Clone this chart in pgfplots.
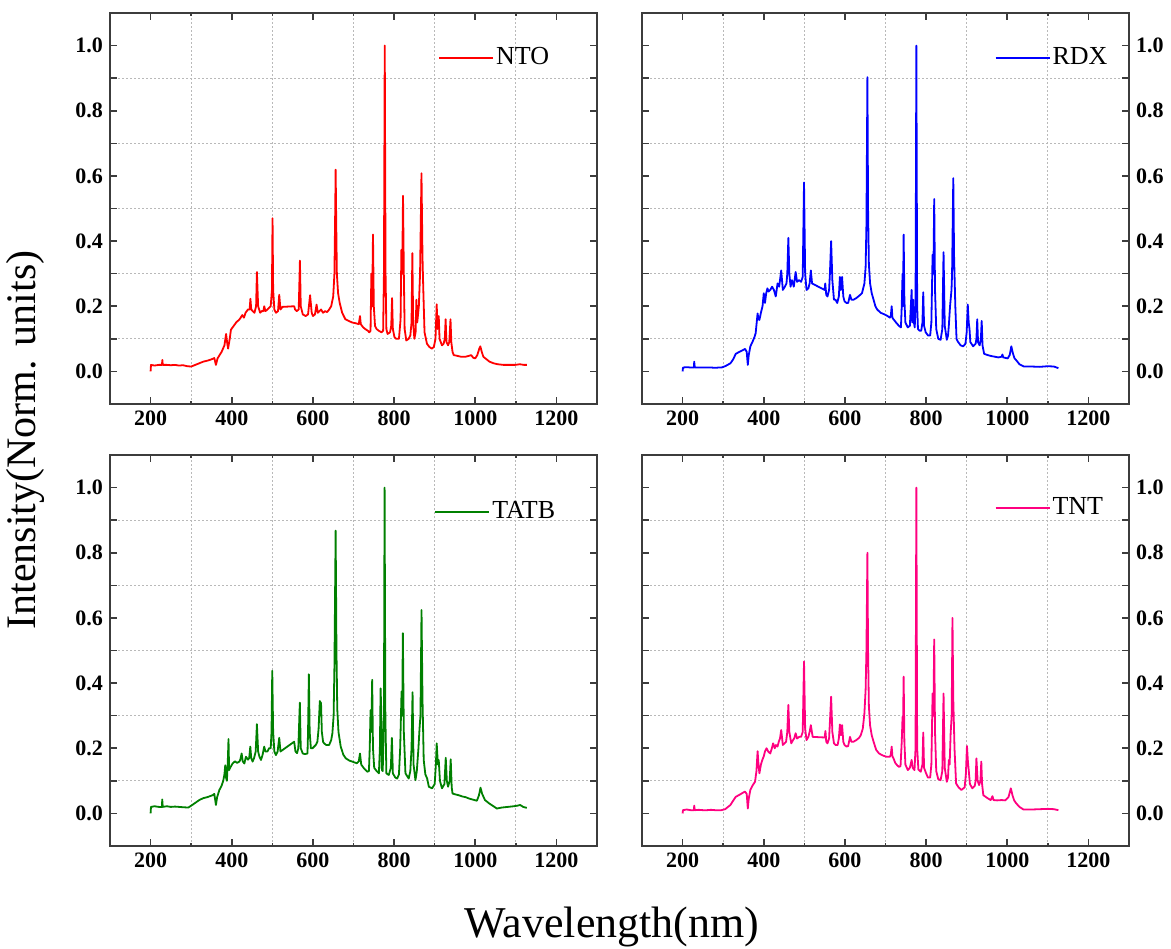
\documentclass[border=0pt]{standalone}
\usepackage{fontspec}
\setmainfont{Liberation Serif}
\usepackage{pgfplots}
\pgfplotsset{compat=1.18}
\definecolor{axgray}{HTML}{3C3C3C}
\definecolor{cNTO}{RGB}{255,0,0}
\definecolor{cRDX}{RGB}{0,0,255}
\definecolor{cTATB}{RGB}{0,128,0}
\definecolor{cTNT}{RGB}{255,0,128}
\pgfplotsset{
 spec/.style={
  scale only axis, height=195.5pt, width=243.5pt,
  xmin=100, xmax=1300, ymin=-0.1, ymax=1.1,
  xtick={200,400,600,800,1000,1200}, xticklabels={200,400,600,800,1000,1200},
  ytick={0,0.1,0.2,0.3,0.4,0.5,0.6,0.7,0.8,0.9,1.0},
  yticklabels={0.0,{},0.2,{},0.4,{},0.6,{},0.8,{},1.0},
  minor xtick={300,500,700,900,1100}, minor ytick={0.1,0.3,0.5,0.7,0.9},
  xminorgrids=true, yminorgrids=true, xmajorgrids=false, ymajorgrids=false,
  minor grid style={gray!55, dash pattern=on 0.8pt off 1.2pt, line width=0.5pt},
  tick align=inside,
  major tick length=3.5pt, minor tick length=1.5pt,
  axis line style={axgray, line width=1pt},
  every tick/.style={axgray, line width=0.8pt},
  ticklabel style={font=\fontsize{11}{11}\selectfont\bfseries},
  legend style={draw=none, fill=none, anchor=west, inner sep=0pt,
    font=\fontsize{13}{13}\selectfont, nodes={inner sep=1pt}},
  legend image code/.code={\draw[#1, line width=1pt] (0pt,0pt) -- (27pt,0pt);},
  every axis plot/.append style={line width=0.9pt, line join=round},
 }
}
\begin{document}
\begin{tikzpicture}
\useasboundingbox (0,0) rectangle (585.5pt,474pt);
% ---------------- NTO ----------------
\begin{axis}[spec, at={(55pt,272pt)}, anchor=south west,
  legend style={at={(0.673,0.886)}}]
\addplot[color=cNTO] coordinates {
(200,0.0)(201,0.02)(210,0.018)(220,0.02)(228,0.02)(229,0.035)(230,0.02)(240,0.02)(250,0.019)(260,0.02)(270,0.018)(280,0.019)(290,0.016)(300,0.015)(310,0.02)(320,0.025)(330,0.03)(340,0.033)(350,0.037)(357,0.041)(361,0.02)(365,0.04)(375,0.06)(382,0.08)(386,0.115)(389,0.085)(391,0.07)(395,0.1)(398,0.128)(405,0.14)(412,0.152)(418,0.158)(422,0.165)(426,0.173)(430,0.165)(434,0.18)(440,0.19)(444,0.19)(446,0.223)(448,0.19)(452,0.185)(456,0.18)(460,0.2)(462,0.305)(465,0.2)(470,0.18)(474,0.185)(478,0.185)(480,0.2)(483,0.185)(488,0.19)(492,0.195)(496,0.2)(499,0.25)(500.5,0.47)(502,0.25)(505,0.19)(509,0.18)(514,0.185)(517,0.235)(520,0.19)(525,0.198)(554,0.2)(556,0.19)(560,0.185)(565,0.19)(568,0.34)(570,0.2)(575,0.175)(582,0.17)(588,0.175)(593,0.234)(597,0.18)(600,0.17)(605,0.175)(609,0.205)(612,0.18)(616,0.185)(620,0.19)(625,0.18)(630,0.185)(635,0.182)(640,0.19)(645,0.2)(650,0.23)(653,0.3)(655,0.5)(656,0.619)(657.5,0.45)(659,0.3)(662,0.24)(666,0.21)(672,0.18)(680,0.16)(688,0.155)(697,0.15)(705,0.148)(713,0.145)(716,0.17)(718,0.145)(724,0.135)(729,0.13)(735,0.125)(739,0.12)(742,0.125)(744,0.3)(746,0.2)(748,0.42)(750,0.2)(753,0.14)(757,0.13)(762,0.125)(769,0.12)(773,0.125)(775,0.3)(777,1.0)(779,0.3)(781,0.13)(784,0.115)(790,0.12)(793,0.14)(795,0.225)(797,0.13)(801,0.105)(805,0.1)(812,0.1)(816,0.16)(818,0.373)(820,0.3)(822,0.539)(824,0.3)(826,0.13)(830,0.095)(836,0.1)(840,0.11)(843,0.15)(845,0.363)(847,0.15)(850,0.1)(853,0.12)(855,0.22)(857,0.15)(861,0.2)(864,0.3)(867.5,0.608)(870,0.35)(872,0.25)(875,0.12)(881,0.085)(887,0.075)(893,0.07)(898,0.075)(902,0.1)(905,0.206)(907,0.13)(910,0.17)(912,0.1)(918,0.08)(922,0.085)(925,0.1)(927,0.16)(929,0.09)(933,0.08)(936,0.09)(939,0.16)(941,0.09)(944,0.06)(947,0.05)(955,0.048)(965,0.045)(976,0.045)(985,0.048)(990,0.05)(995,0.042)(1000,0.04)(1005,0.05)(1010,0.07)(1012.5,0.077)(1016,0.06)(1020,0.045)(1025,0.04)(1035,0.03)(1045,0.025)(1055,0.022)(1070,0.02)(1085,0.02)(1098,0.02)(1110,0.022)(1120,0.02)(1127,0.02)
};
\addlegendentry{NTO}
\end{axis}
% ---------------- RDX ----------------
\begin{axis}[spec, at={(321pt,272pt)}, anchor=south west,
  yticklabel pos=right, legend style={at={(0.723,0.885)}}]
\addplot[color=cRDX] coordinates {
(200,0.0)(201,0.012)(210,0.013)(220,0.012)(228,0.012)(228.6,0.03)(230,0.012)(240,0.012)(250,0.012)(260,0.012)(270,0.012)(280,0.011)(290,0.012)(296,0.012)(305,0.016)(318,0.025)(325,0.038)(331,0.054)(340,0.06)(348,0.065)(354,0.069)(358,0.06)(360.7,0.02)(363,0.05)(367,0.077)(372,0.09)(377,0.105)(380,0.117)(384.8,0.178)(387,0.16)(389.3,0.158)(393,0.18)(397,0.2)(400,0.24)(403,0.21)(406,0.24)(409,0.255)(412,0.245)(416,0.25)(420.5,0.26)(425,0.25)(429.6,0.23)(434,0.27)(438,0.26)(443,0.31)(447,0.25)(452,0.26)(456,0.27)(458,0.3)(460.6,0.41)(463,0.3)(466,0.26)(469.6,0.28)(474,0.26)(478.6,0.305)(482,0.275)(487,0.28)(492,0.275)(496,0.29)(499.2,0.58)(502,0.3)(505.4,0.25)(510,0.255)(513,0.27)(516,0.31)(519,0.27)(550,0.25)(551.5,0.27)(554,0.235)(557,0.23)(561,0.25)(563,0.3)(566,0.4)(569,0.28)(573,0.22)(577,0.22)(581,0.21)(585,0.23)(587.6,0.29)(590,0.25)(593,0.29)(596,0.23)(599,0.215)(604,0.21)(608,0.21)(612.5,0.235)(616,0.22)(621,0.22)(628,0.225)(635,0.232)(642,0.24)(648,0.27)(651,0.32)(653,0.45)(655.4,0.903)(657,0.5)(659,0.33)(662,0.27)(666,0.24)(670.6,0.22)(675,0.2)(679.5,0.19)(688,0.18)(697.4,0.175)(705,0.17)(710.8,0.165)(713,0.17)(715.2,0.2)(717,0.165)(719.7,0.16)(726,0.15)(733,0.14)(738,0.135)(740,0.2)(742,0.3)(743,0.2)(744.7,0.42)(746.5,0.22)(749,0.15)(755,0.135)(760,0.14)(764.4,0.25)(766,0.15)(768,0.22)(770,0.15)(772,0.135)(774,0.2)(776,1.0)(778,0.2)(780,0.13)(784,0.125)(788,0.125)(791,0.15)(793,0.243)(795,0.14)(799,0.12)(805,0.11)(810,0.11)(813,0.15)(816,0.358)(818,0.3)(820,0.529)(822,0.25)(825,0.13)(830,0.1)(835.7,0.097)(840,0.13)(843,0.366)(846,0.14)(851,0.097)(854,0.11)(856,0.14)(859,0.2)(862.6,0.25)(864,0.3)(867,0.593)(869,0.35)(872,0.2)(875,0.1)(878,0.092)(885,0.08)(891.4,0.077)(897,0.085)(900,0.12)(902.7,0.205)(905,0.15)(907,0.13)(909,0.09)(916,0.077)(922,0.085)(924,0.1)(926,0.16)(928,0.09)(932,0.08)(935,0.1)(937,0.155)(939,0.08)(943,0.054)(952,0.05)(961,0.047)(970,0.045)(978,0.043)(986,0.045)(988,0.052)(990,0.043)(1001,0.04)(1006,0.05)(1010,0.077)(1014,0.055)(1018,0.04)(1023,0.033)(1030,0.022)(1041,0.015)(1060,0.015)(1080,0.014)(1100,0.016)(1115,0.015)(1126,0.01)
};
\addlegendentry{RDX}
\end{axis}
% ---------------- TATB ----------------
\begin{axis}[spec, at={(55pt,51pt)}, anchor=south west,
  legend style={at={(0.665,0.855)}}]
\addplot[color=cTATB] coordinates {
(200,0.0)(201,0.02)(210,0.022)(220,0.02)(228,0.02)(228.7,0.043)(230,0.02)(240,0.022)(250,0.02)(260,0.021)(270,0.02)(280,0.019)(293,0.018)(305,0.028)(320,0.041)(330,0.047)(340,0.05)(353,0.056)(357,0.06)(361,0.026)(364,0.05)(369.5,0.072)(375,0.085)(379,0.1)(382,0.12)(384,0.148)(386,0.11)(388,0.1)(390,0.15)(392,0.228)(393.5,0.133)(396,0.14)(402,0.153)(408,0.16)(413,0.155)(418.7,0.159)(421,0.165)(424.4,0.184)(427,0.16)(431,0.153)(435,0.174)(440,0.165)(443,0.17)(445.7,0.205)(448,0.17)(451.4,0.159)(455,0.17)(459,0.19)(462,0.274)(465,0.19)(468,0.175)(472,0.164)(476,0.18)(480,0.205)(483,0.19)(488,0.19)(492,0.2)(496,0.2)(498,0.25)(499.8,0.438)(502,0.25)(505,0.19)(508.8,0.179)(513,0.19)(517,0.232)(520,0.19)(553.8,0.22)(557,0.19)(561,0.185)(564,0.2)(567.8,0.34)(570,0.2)(575,0.184)(580,0.182)(586.6,0.184)(588,0.25)(590,0.427)(592,0.25)(595,0.2)(599,0.2)(603,0.205)(607,0.21)(611,0.22)(614,0.26)(617,0.345)(620,0.338)(622,0.25)(625,0.22)(627.5,0.215)(633,0.21)(640,0.21)(645,0.225)(648,0.246)(651,0.3)(653,0.45)(656,0.868)(658,0.5)(660,0.32)(663,0.25)(668.5,0.205)(675,0.18)(681,0.169)(690,0.162)(697,0.159)(708,0.154)(713,0.16)(716,0.184)(719,0.15)(726,0.138)(734,0.128)(738,0.13)(740,0.2)(742,0.317)(744,0.25)(746,0.41)(748,0.2)(751,0.14)(757,0.13)(762.6,0.123)(765,0.2)(766.8,0.384)(768.3,0.317)(770,0.133)(772,0.13)(775,0.3)(776.6,1.0)(778.5,0.3)(781,0.123)(787,0.118)(792,0.14)(794.6,0.232)(797,0.123)(803,0.11)(807.6,0.107)(812,0.12)(815,0.2)(818.4,0.374)(820,0.3)(821.6,0.553)(824,0.25)(828,0.123)(836,0.107)(840,0.13)(843,0.2)(845.5,0.372)(848,0.15)(852.6,0.102)(856,0.13)(860,0.2)(862.7,0.261)(865,0.3)(867.6,0.624)(870,0.35)(873,0.164)(877,0.12)(881.5,0.107)(885.6,0.082)(893.6,0.077)(900,0.09)(903,0.15)(905,0.215)(908,0.15)(910,0.164)(913,0.1)(918,0.077)(924,0.09)(927.3,0.171)(930,0.1)(933,0.082)(937,0.1)(939.5,0.166)(942,0.08)(944,0.061)(952,0.058)(959,0.056)(968,0.052)(976,0.05)(984,0.046)(995,0.042)(1004,0.039)(1009,0.055)(1013,0.079)(1017,0.06)(1024,0.041)(1035,0.03)(1045,0.022)(1053,0.015)(1065,0.018)(1080,0.02)(1095,0.022)(1105,0.024)(1110.6,0.026)(1118,0.02)(1127,0.017)
};
\addlegendentry{TATB}
\end{axis}
% ---------------- TNT ----------------
\begin{axis}[spec, at={(321pt,51pt)}, anchor=south west,
  yticklabel pos=right, legend style={at={(0.723,0.865)}}]
\addplot[color=cTNT] coordinates {
(200,0.0)(201,0.01)(210,0.012)(220,0.01)(228,0.01)(228.6,0.024)(230,0.01)(240,0.011)(250,0.01)(260,0.01)(270,0.011)(280,0.01)(295.6,0.01)(305,0.013)(317.9,0.026)(325,0.04)(331,0.051)(340,0.057)(348,0.063)(353.6,0.067)(358,0.06)(360.7,0.015)(363,0.045)(366.9,0.072)(372,0.085)(378.5,0.097)(382,0.13)(384.8,0.191)(387,0.15)(389.3,0.123)(393,0.15)(396.4,0.164)(400,0.175)(403,0.19)(407,0.2)(411,0.19)(416,0.184)(420,0.2)(423,0.215)(427,0.2)(430,0.21)(433.9,0.205)(437,0.22)(440,0.23)(443,0.256)(447,0.21)(451,0.215)(455,0.22)(458,0.25)(460.6,0.333)(463,0.25)(467.8,0.215)(472,0.225)(475,0.23)(478.6,0.246)(482,0.23)(487.4,0.235)(492,0.235)(496,0.25)(499.2,0.466)(502,0.26)(505.4,0.225)(510,0.235)(513,0.25)(516,0.271)(520.5,0.235)(550,0.233)(552,0.253)(554,0.22)(557,0.215)(561,0.23)(563,0.28)(566,0.358)(569,0.25)(573,0.215)(577,0.21)(582,0.21)(585,0.23)(587.6,0.273)(590,0.24)(593,0.271)(596,0.22)(599,0.21)(604,0.205)(608,0.207)(612.5,0.235)(616,0.22)(621,0.22)(628,0.225)(635,0.232)(639,0.24)(644,0.26)(648,0.307)(651,0.38)(653,0.5)(655.4,0.8)(657,0.5)(659,0.33)(662,0.27)(666,0.24)(670.6,0.22)(677,0.195)(684,0.184)(693,0.178)(702,0.174)(710.8,0.174)(713,0.18)(715.2,0.205)(717,0.175)(719.7,0.169)(724,0.155)(728.6,0.148)(733,0.143)(737,0.145)(740,0.22)(742,0.297)(743,0.25)(744.7,0.42)(746.5,0.22)(749,0.15)(755,0.133)(760,0.14)(764.4,0.164)(767,0.14)(771.4,0.133)(774,0.2)(776,1.0)(778,0.2)(781,0.135)(786.8,0.128)(791,0.15)(793,0.248)(795,0.14)(800,0.123)(804.5,0.11)(810,0.11)(813,0.15)(816,0.368)(818,0.3)(820,0.534)(822,0.25)(825,0.13)(830,0.105)(835.7,0.102)(840,0.13)(843,0.368)(846,0.14)(851,0.097)(854,0.11)(856,0.164)(858,0.15)(860.5,0.246)(863,0.3)(865,0.6)(867,0.35)(870,0.2)(873.9,0.092)(880,0.08)(887,0.072)(895,0.08)(898,0.12)(900.7,0.207)(903,0.16)(905,0.133)(908,0.09)(914,0.077)(920,0.085)(922,0.1)(924,0.169)(927,0.1)(930.6,0.087)(934,0.1)(936,0.159)(938,0.09)(941,0.056)(950,0.048)(959,0.041)(963.7,0.053)(966,0.041)(975,0.04)(986,0.041)(995,0.04)(1003,0.05)(1008.8,0.077)(1013,0.055)(1017,0.04)(1022,0.031)(1030,0.02)(1040,0.012)(1060,0.012)(1080,0.013)(1100,0.014)(1115,0.013)(1126,0.01)
};
\addlegendentry{TNT}
\end{axis}
\node[font=\fontsize{22}{22}\selectfont] at (306pt,10.5pt) {Wavelength(nm)};
\node[rotate=90, font=\fontsize{21}{21}\selectfont] at (12.5pt,254pt) {Intensity(Norm. units)};
\end{tikzpicture}
\end{document}
